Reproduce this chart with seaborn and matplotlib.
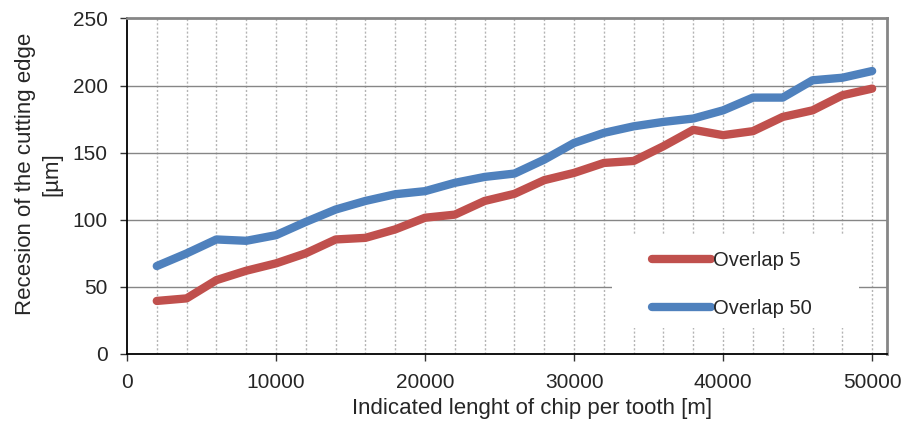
import numpy as np
import pandas as pd
import matplotlib
matplotlib.use("Agg")
import matplotlib.pyplot as plt
from matplotlib.patches import Rectangle
import seaborn as sns

x_vals = [2000, 4000, 6000, 8000, 10000, 12000, 14000, 16000, 18000, 20000,
          22000, 24000, 26000, 28000, 30000, 32000, 34000, 36000, 38000, 40000,
          42000, 44000, 46000, 48000, 50000]
overlap5 = [39.5, 41.4, 55, 62, 67.5, 75, 85.3, 86.5, 92.8, 101.5,
            103.8, 114, 119.3, 129.5, 134.9, 142.3, 143.8, 154.8, 167, 163,
            166, 176.6, 181.5, 192.7, 197.7]
overlap50 = [65.5, 74.9, 85.3, 84.3, 88.5, 98.4, 107.6, 114, 119, 121.3,
             127.5, 131.9, 134.4, 144.8, 157.2, 164.7, 169.6, 172.9, 175.4, 181.5,
             191, 191, 203.9, 205.8, 210.8]
series_names = ["Overlap 5", "Overlap 50"]
colors = ["#C0504D", "#4F81BD"]

df = pd.DataFrame({
    "x": x_vals * 2,
    "y": overlap5 + overlap50,
    "series": [series_names[0]] * len(x_vals) + [series_names[1]] * len(x_vals),
})

sns.set_theme(style="white")
plt.rcParams['font.family'] = ['Liberation Sans', 'DejaVu Sans']

fig = plt.figure(figsize=(9.07, 4.28), dpi=100)
ax = fig.add_axes([0.140, 0.173, 0.838, 0.784])

# gridlines
for xv in x_vals:
    ax.axvline(xv, color="#B4B4B4", lw=1.0, ls=(0, (1.5, 1.5)), zorder=0)
for yv in [50, 100, 150, 200]:
    ax.axhline(yv, color="#868686", lw=1.0, zorder=0)

# white legend background area
ax.add_patch(Rectangle((0.638, 0.077), 0.325, 0.277, transform=ax.transAxes,
                       facecolor="white", edgecolor="none", zorder=1))

sns.lineplot(data=df, x="x", y="y", hue="series", palette=colors,
             hue_order=series_names, lw=6, ax=ax, legend=True,
             solid_capstyle="round", solid_joinstyle="round", zorder=3)

ax.set_xlim(0, 51000)
ax.set_ylim(0, 250)
ax.set_xticks([0, 10000, 20000, 30000, 40000, 50000])
ax.set_yticks([0, 50, 100, 150, 200, 250])
ax.tick_params(axis="both", direction="out", length=5, width=1, color="#333333",
               labelsize=15, pad=9, bottom=True, left=True)

for side in ["left", "bottom"]:
    ax.spines[side].set_color("black")
    ax.spines[side].set_linewidth(1.3)
for side in ["top", "right"]:
    ax.spines[side].set_color("#868686")
    ax.spines[side].set_linewidth(2)

ax.set_xlabel("Indicated lenght of chip per tooth [m]", fontsize=16)
ax.xaxis.set_label_coords(0.533, -0.131)
ax.set_ylabel("Recesion of the cutting edge\n[µm]", fontsize=16, linespacing=1.3)
ax.yaxis.set_label_coords(-0.0855, 0.536)

leg = ax.legend(loc="center left", bbox_to_anchor=(0.691, 0.207), frameon=False,
                fontsize=14.5, handlelength=2.9, handletextpad=0.1,
                labelspacing=1.4, borderpad=0, borderaxespad=0)
for line in leg.get_lines():
    line.set_linewidth(6)
    line.set_solid_capstyle("round")

fig.savefig("out.png", dpi=100)
